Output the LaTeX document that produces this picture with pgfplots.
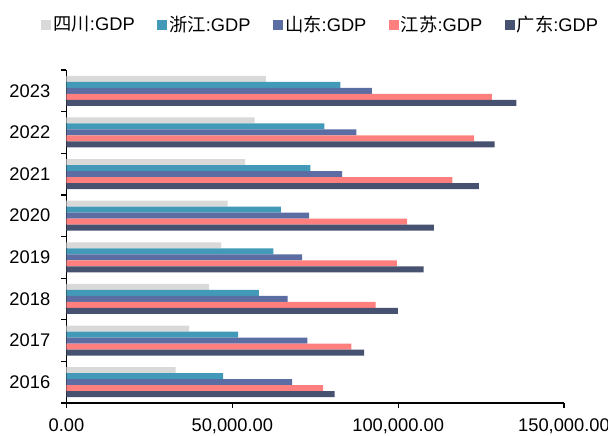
\documentclass[border=0pt]{standalone}
\usepackage{pgfplots}
\pgfplotsset{compat=1.18}
\usepackage{pgfplotstable}
\usepackage{fontspec}
\setmainfont{Liberation Sans}
\newfontfamily\cjk{Noto Sans CJK SC}

\definecolor{cSC}{HTML}{D9D9D9}
\definecolor{cZJ}{HTML}{4399B8}
\definecolor{cSD}{HTML}{5B6DA3}
\definecolor{cJS}{HTML}{FF7F7F}
\definecolor{cGD}{HTML}{465270}

% GDP, 100 million yuan
\pgfplotstableread{
year sc zj sd js gd
2016 32934.5 47251.4 68024.5 77388.3 80854.9
2017 36980.2 51768.3 72634.2 85869.8 89705.2
2018 42902.1 58002.8 66648.9 93207.6 99945.2
2019 46615.8 62351.7 71067.5 99631.5 107671.1
2020 48598.8 64613.3 73129.0 102719.0 110760.9
2021 53850.8 73515.8 83095.9 116364.2 124369.7
2022 56749.8 77715.4 87435.1 122875.6 129118.6
2023 60132.9 82553.2 92068.7 128222.2 135673.2
}\gdp

\begin{document}
\fontsize{18.3}{22}\selectfont
\begin{tikzpicture}
\begin{axis}[
    scale only axis,
    width=497.5pt, height=333pt,
    xbar, bar width=6pt,
    every axis plot/.append style={draw=none},
    xmin=0, xmax=150000,
    ymin=2015.5, ymax=2023.5,
    axis x line*=bottom, axis y line*=left,
    axis line style={-, line width=1.4pt, black},
    tick align=outside, major tick length=5pt,
    tick style={line width=1.2pt, black},
    scaled x ticks=false,
    xtick={0,50000,100000,150000},
    xticklabels={0.00,{50,000.00},{100,000.00},{150,000.00}},
    xticklabel style={yshift=-4.5pt},
    ytick={2015.5,2016.5,...,2023.5},
    yticklabels={},
    extra y ticks={2016,2017,2018,2019,2020,2021,2022,2023},
    extra y tick labels={2016,2017,2018,2019,2020,2021,2022,2023},
    extra y tick style={major tick length=0pt, yticklabel style={xshift=-10pt}},
    /pgf/number format/assume math mode=true,
    legend columns=5,
    legend style={draw=none, fill=none, at={(0.5,1)}, anchor=center,
        xshift=5.5pt, yshift=45pt,
        /tikz/every even column/.append style={column sep=20.5pt}},
    legend image code/.code={\fill[#1] (0pt,-5pt) rectangle (10pt,5pt);},
]
\addplot[fill=cSC, bar shift=12pt] table[x=sc, y=year] {\gdp};
\addlegendentry{{\cjk 四川}:GDP}
\addplot[fill=cZJ, bar shift=6pt] table[x=zj, y=year] {\gdp};
\addlegendentry{{\cjk 浙江}:GDP}
\addplot[fill=cSD, bar shift=0pt] table[x=sd, y=year] {\gdp};
\addlegendentry{{\cjk 山东}:GDP}
\addplot[fill=cJS, bar shift=-6pt] table[x=js, y=year] {\gdp};
\addlegendentry{{\cjk 江苏}:GDP}
\addplot[fill=cGD, bar shift=-12pt] table[x=gd, y=year] {\gdp};
\addlegendentry{{\cjk 广东}:GDP}
\end{axis}
\pgfresetboundingbox
\path (current axis.south west) ++(-66.5pt,-33pt) rectangle ++(608pt,436pt);
\end{tikzpicture}
\end{document}
